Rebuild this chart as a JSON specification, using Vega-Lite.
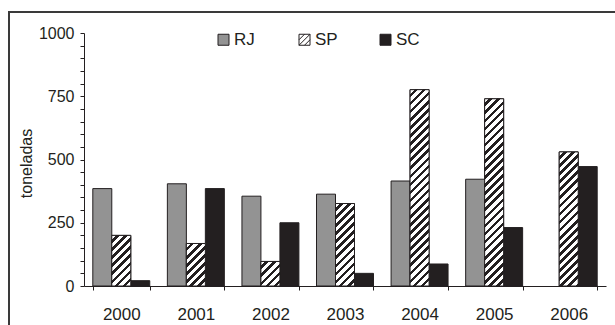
{
  "$schema": "https://vega.github.io/schema/vega-lite/v6.json",
  "width": 606,
  "height": 313,
  "autosize": "none",
  "padding": {"left": 9, "top": 12, "right": 0, "bottom": 0},
  "background": "white",
  "params": [
    {"name": "hatchStops", "value": [
      {"offset":0,"color":"white"},{"offset":0.0196,"color":"white"},{"offset":0.0196,"color":"#231f20"},{"offset":0.0357,"color":"#231f20"},
      {"offset":0.0357,"color":"white"},{"offset":0.0554,"color":"white"},{"offset":0.0554,"color":"#231f20"},{"offset":0.0714,"color":"#231f20"},
      {"offset":0.0714,"color":"white"},{"offset":0.0911,"color":"white"},{"offset":0.0911,"color":"#231f20"},{"offset":0.1071,"color":"#231f20"},
      {"offset":0.1071,"color":"white"},{"offset":0.1268,"color":"white"},{"offset":0.1268,"color":"#231f20"},{"offset":0.1429,"color":"#231f20"},
      {"offset":0.1429,"color":"white"},{"offset":0.1625,"color":"white"},{"offset":0.1625,"color":"#231f20"},{"offset":0.1786,"color":"#231f20"},
      {"offset":0.1786,"color":"white"},{"offset":0.1982,"color":"white"},{"offset":0.1982,"color":"#231f20"},{"offset":0.2143,"color":"#231f20"},
      {"offset":0.2143,"color":"white"},{"offset":0.2339,"color":"white"},{"offset":0.2339,"color":"#231f20"},{"offset":0.25,"color":"#231f20"},
      {"offset":0.25,"color":"white"},{"offset":0.2696,"color":"white"},{"offset":0.2696,"color":"#231f20"},{"offset":0.2857,"color":"#231f20"},
      {"offset":0.2857,"color":"white"},{"offset":0.3054,"color":"white"},{"offset":0.3054,"color":"#231f20"},{"offset":0.3214,"color":"#231f20"},
      {"offset":0.3214,"color":"white"},{"offset":0.3411,"color":"white"},{"offset":0.3411,"color":"#231f20"},{"offset":0.3571,"color":"#231f20"},
      {"offset":0.3571,"color":"white"},{"offset":0.3768,"color":"white"},{"offset":0.3768,"color":"#231f20"},{"offset":0.3929,"color":"#231f20"},
      {"offset":0.3929,"color":"white"},{"offset":0.4125,"color":"white"},{"offset":0.4125,"color":"#231f20"},{"offset":0.4286,"color":"#231f20"},
      {"offset":0.4286,"color":"white"},{"offset":0.4482,"color":"white"},{"offset":0.4482,"color":"#231f20"},{"offset":0.4643,"color":"#231f20"},
      {"offset":0.4643,"color":"white"},{"offset":0.4839,"color":"white"},{"offset":0.4839,"color":"#231f20"},{"offset":0.5,"color":"#231f20"},
      {"offset":0.5,"color":"white"},{"offset":0.5196,"color":"white"},{"offset":0.5196,"color":"#231f20"},{"offset":0.5357,"color":"#231f20"},
      {"offset":0.5357,"color":"white"},{"offset":0.5554,"color":"white"},{"offset":0.5554,"color":"#231f20"},{"offset":0.5714,"color":"#231f20"},
      {"offset":0.5714,"color":"white"},{"offset":0.5911,"color":"white"},{"offset":0.5911,"color":"#231f20"},{"offset":0.6071,"color":"#231f20"},
      {"offset":0.6071,"color":"white"},{"offset":0.6268,"color":"white"},{"offset":0.6268,"color":"#231f20"},{"offset":0.6429,"color":"#231f20"},
      {"offset":0.6429,"color":"white"},{"offset":0.6625,"color":"white"},{"offset":0.6625,"color":"#231f20"},{"offset":0.6786,"color":"#231f20"},
      {"offset":0.6786,"color":"white"},{"offset":0.6982,"color":"white"},{"offset":0.6982,"color":"#231f20"},{"offset":0.7143,"color":"#231f20"},
      {"offset":0.7143,"color":"white"},{"offset":0.7339,"color":"white"},{"offset":0.7339,"color":"#231f20"},{"offset":0.75,"color":"#231f20"},
      {"offset":0.75,"color":"white"},{"offset":0.7696,"color":"white"},{"offset":0.7696,"color":"#231f20"},{"offset":0.7857,"color":"#231f20"},
      {"offset":0.7857,"color":"white"},{"offset":0.8054,"color":"white"},{"offset":0.8054,"color":"#231f20"},{"offset":0.8214,"color":"#231f20"},
      {"offset":0.8214,"color":"white"},{"offset":0.8411,"color":"white"},{"offset":0.8411,"color":"#231f20"},{"offset":0.8571,"color":"#231f20"},
      {"offset":0.8571,"color":"white"},{"offset":0.8768,"color":"white"},{"offset":0.8768,"color":"#231f20"},{"offset":0.8929,"color":"#231f20"},
      {"offset":0.8929,"color":"white"},{"offset":0.9125,"color":"white"},{"offset":0.9125,"color":"#231f20"},{"offset":0.9286,"color":"#231f20"},
      {"offset":0.9286,"color":"white"},{"offset":0.9482,"color":"white"},{"offset":0.9482,"color":"#231f20"},{"offset":0.9643,"color":"#231f20"},
      {"offset":0.9643,"color":"white"},{"offset":0.9839,"color":"white"},{"offset":0.9839,"color":"#231f20"},{"offset":1,"color":"#231f20"}
    ]}
  ],
  "config": {
    "view": {"stroke": "#3a3a3a", "strokeWidth": 2, "strokeDash": [606, 919, 313]},
    "font": "Liberation Sans",
    "axis": {
      "domainColor": "#231f20",
      "tickColor": "#231f20",
      "labelColor": "#231f20",
      "titleColor": "#231f20",
      "labelFont": "Liberation Sans",
      "titleFont": "Liberation Sans",
      "grid": false
    }
  },
  "data": {
    "values": [
      {"year": "2000", "series": "RJ", "value": 385},
      {"year": "2000", "series": "SP", "value": 200},
      {"year": "2000", "series": "SC", "value": 21},
      {"year": "2001", "series": "RJ", "value": 404},
      {"year": "2001", "series": "SP", "value": 168},
      {"year": "2001", "series": "SC", "value": 385},
      {"year": "2002", "series": "RJ", "value": 355},
      {"year": "2002", "series": "SP", "value": 97},
      {"year": "2002", "series": "SC", "value": 250},
      {"year": "2003", "series": "RJ", "value": 363},
      {"year": "2003", "series": "SP", "value": 326},
      {"year": "2003", "series": "SC", "value": 50},
      {"year": "2004", "series": "RJ", "value": 415},
      {"year": "2004", "series": "SP", "value": 776},
      {"year": "2004", "series": "SC", "value": 87},
      {"year": "2005", "series": "RJ", "value": 422},
      {"year": "2005", "series": "SP", "value": 740},
      {"year": "2005", "series": "SC", "value": 231},
      {"year": "2006", "series": "SP", "value": 530},
      {"year": "2006", "series": "SC", "value": 472}
    ]
  },
  "encoding": {
    "x": {
      "field": "year",
      "type": "nominal",
      "scale": {"range": [75, 597], "paddingInner": 0.236, "paddingOuter": 0.118},
      "axis": {
        "orient": "bottom",
        "offset": -39,
        "title": null,
        "labelAngle": 0,
        "tickBand": "extent",
        "tickSize": 4,
        "labelFontSize": 17,
        "labelPadding": 16
      }
    },
    "xOffset": {
      "field": "series",
      "type": "nominal",
      "scale": {"domain": ["RJ", "SP", "SC"], "paddingInner": 0, "paddingOuter": 0}
    },
    "y": {
      "field": "value",
      "type": "quantitative",
      "stack": null,
      "scale": {"domain": [0, 1000], "range": [274, 21], "nice": false, "zero": true},
      "axis": {
        "orient": "left",
        "offset": -75,
        "values": [0, 50, 100, 150, 200, 250, 300, 350, 400, 450, 500, 550, 600, 650, 700, 750, 800, 850, 900, 950, 1000],
        "format": "d",
        "labelExpr": "datum.value % 250 === 0 ? datum.label : ''",
        "labelOverlap": false,
        "tickSize": 4,
        "labelPadding": 6,
        "labelFontSize": 16,
        "title": "toneladas",
        "titleFontSize": 16,
        "titleFontWeight": "normal",
        "titleX": -58,
        "titleY": 151,
        "titleBaseline": "middle",
        "encode": {
          "ticks": {
            "update": {
              "x": {"signal": "datum.value % 250 === 0 ? -4 : 0"},
              "x2": {"value": 3}
            }
          }
        }
      }
    }
  },
  "layer": [
    {
      "mark": {"type": "bar", "stroke": "#231f20", "strokeWidth": 1},
      "encoding": {
        "color": {
          "field": "series",
          "type": "nominal",
          "scale": {"domain": ["RJ", "SP", "SC"], "range": ["#939393", "#ffffff", "#231f20"]},
          "legend": {
            "orient": "none",
            "legendX": 206,
            "legendY": 19,
            "direction": "horizontal",
            "title": null,
            "symbolType": "square",
            "symbolSize": 121,
            "symbolStrokeColor": "#231f20",
            "symbolStrokeWidth": 1,
            "symbolOpacity": 1,
            "labelFontSize": 17,
            "labelFont": "Liberation Sans",
            "labelColor": "#231f20",
            "labelOffset": 2,
            "gridAlign": "all",
            "columnPadding": 38,
            "encode": {
              "symbols": {
                "update": {
                  "stroke": {"value": "#231f20"},
                  "strokeWidth": {"value": 1},
                  "shape": {"signal": "datum.label === 'SP' ? 'M-1,-1H1V1H-1Z M-1,1L1,-1 M-1,0L0,-1 M0,1L1,0' : 'square'"}
                }
              }
            }
          }
        }
      }
    },
    {
      "transform": [{"filter": "datum.series === 'SP'"}],
      "mark": {
        "type": "bar",
        "stroke": "#231f20",
        "strokeWidth": 1,
        "fill": {"expr": "{gradient: 'linear', x1: 0, y1: 0, x2: 226.3*bandwidth('xOffset')/(pow(bandwidth('xOffset'),2)+pow(scale('y',0)-scale('y',datum.value),2)), y2: 226.3*(scale('y',0)-scale('y',datum.value))/(pow(bandwidth('xOffset'),2)+pow(scale('y',0)-scale('y',datum.value),2)), stops: hatchStops}"}
      }
    }
  ]
}
